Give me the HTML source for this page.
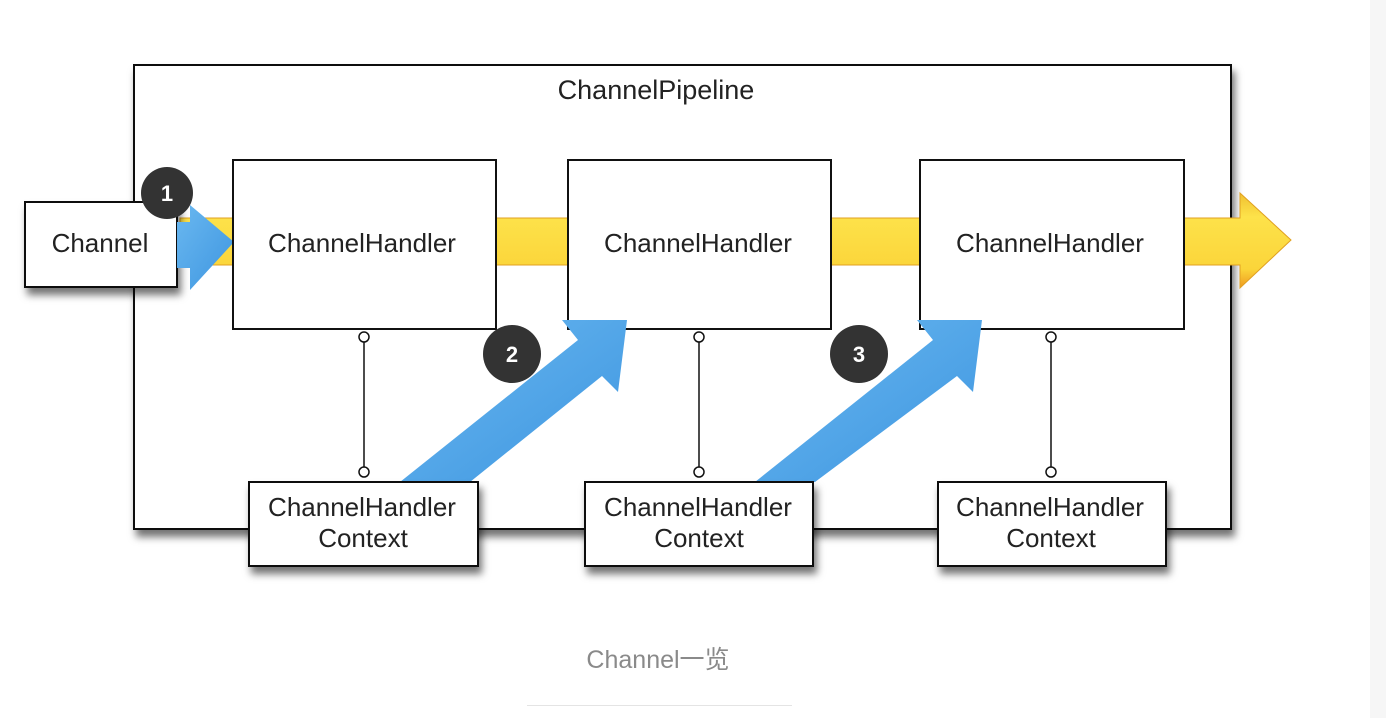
<!DOCTYPE html>
<html><head><meta charset="utf-8"><style>
body{margin:0;width:1386px;height:718px;background:#fff;overflow:hidden;position:relative;font-family:"Liberation Sans","Noto Sans CJK SC",sans-serif;}
.strip{position:absolute;left:1370px;top:0;width:16px;height:718px;background:#f6f6f6;}
.cap{position:absolute;left:0;width:1316px;top:640px;text-align:center;font-size:25px;color:#8a8a8a;}
.line{position:absolute;left:527px;top:705px;width:265px;height:1px;background:#e4e4e4;}
</style></head><body>
<div class="strip"></div>
<svg width="1386" height="718" style="position:absolute;left:0;top:0">
<defs>
<filter id="sh" x="-10%" y="-10%" width="130%" height="140%"><feDropShadow dx="3" dy="7" stdDeviation="4" flood-color="#000" flood-opacity="0.55"/></filter>
<linearGradient id="yg" x1="0" y1="0" x2="0" y2="1"><stop offset="0" stop-color="#f0c030"/><stop offset="0.25" stop-color="#fde24a"/><stop offset="0.8" stop-color="#fbd53a"/><stop offset="1" stop-color="#ee9a20"/></linearGradient>
<linearGradient id="bg" x1="0" y1="0" x2="1" y2="1"><stop offset="0" stop-color="#6ab8f0"/><stop offset="1" stop-color="#3d95e0"/></linearGradient>
</defs>
<rect x="134" y="65" width="1097" height="464" fill="#fff" stroke="#111" stroke-width="2" filter="url(#sh)"/>
<text x="656" y="99" font-size="27" text-anchor="middle" fill="#222">ChannelPipeline</text>
<polygon points="180,218 1240,218 1240,193 1291,240 1240,288 1240,265 180,265" fill="url(#yg)" stroke="#e0a020" stroke-width="1"/>
<rect x="25" y="202" width="152" height="85" fill="#fff" stroke="#111" stroke-width="2" filter="url(#sh)"/>
<text x="100" y="252" font-size="26" text-anchor="middle" fill="#222">Channel</text>
<polygon points="177,222 190,222 190,205 234,242 190,290 190,268 177,268" fill="url(#bg)"/>
<g fill="#fff" stroke="#111" stroke-width="2">
<rect x="233" y="160" width="263" height="169"/>
<rect x="568" y="160" width="263" height="169"/>
<rect x="920" y="160" width="264" height="169"/>
</g>
<g font-size="26" text-anchor="middle" fill="#222">
<text x="362" y="252">ChannelHandler</text>
<text x="698" y="252">ChannelHandler</text>
<text x="1050" y="252">ChannelHandler</text>
</g>
<g stroke="#111" stroke-width="1.5" fill="#fff">
<line x1="364" y1="341" x2="364" y2="467"/><circle cx="364" cy="337" r="5"/><circle cx="364" cy="472" r="5"/>
<line x1="699" y1="341" x2="699" y2="467"/><circle cx="699" cy="337" r="5"/><circle cx="699" cy="472" r="5"/>
<line x1="1051" y1="341" x2="1051" y2="467"/><circle cx="1051" cy="337" r="5"/><circle cx="1051" cy="472" r="5"/>
</g>
<polygon points="400,482 470,482 602,376 618,392 627,320 562,320 578,340" fill="url(#bg)"/>
<polygon points="755,482 815,482 957,376 973,392 982,320 917,320 933,340" fill="url(#bg)"/>
<g fill="#fff" stroke="#111" stroke-width="2" filter="url(#sh)">
<rect x="249" y="482" width="229" height="84"/>
<rect x="585" y="482" width="228" height="84"/>
<rect x="938" y="482" width="228" height="84"/>
</g>
<g font-size="26" text-anchor="middle" fill="#222">
<text x="362" y="516">ChannelHandler</text><text x="363" y="547">Context</text>
<text x="698" y="516">ChannelHandler</text><text x="699" y="547">Context</text>
<text x="1050" y="516">ChannelHandler</text><text x="1051" y="547">Context</text>
</g>
<g fill="#333">
<circle cx="167" cy="193" r="26"/><circle cx="512" cy="354" r="29"/><circle cx="859" cy="354" r="29"/>
</g>
<g fill="#fff" font-size="22" font-weight="bold" text-anchor="middle">
<text x="167" y="201">1</text><text x="512" y="362">2</text><text x="859" y="362">3</text>
</g>
</svg>
<div class="cap">Channel一览</div>
<div class="line"></div>
</body></html>
